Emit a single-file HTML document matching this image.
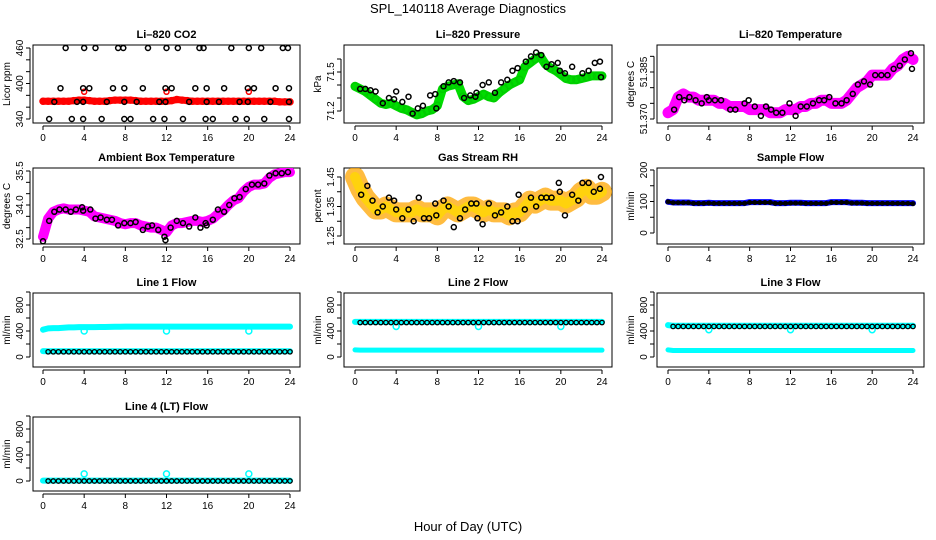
<!DOCTYPE html>
<html><head><meta charset="utf-8"><style>
body{margin:0;background:#fff;}
svg{display:block;font-family:"Liberation Sans",Arial,sans-serif;}
</style></head><body>
<svg id="chart" width="936" height="540" viewBox="0 0 936 540" xmlns="http://www.w3.org/2000/svg">
<text x="468" y="13" font-size="13" text-anchor="middle">SPL_140118  Average Diagnostics</text>
<text x="468" y="531" font-size="13" text-anchor="middle">Hour of Day (UTC)</text>
</svg>
<script>
// ---- data ----
const halfHours = [0,0.5,1,1.5,2,2.5,3,3.5,4,4.5,5,5.5,6,6.5,7,7.5,8,8.5,9,9.5,10,10.5,11,11.5,12,12.5,13,13.5,14,14.5,15,15.5,16,16.5,17,17.5,18,18.5,19,19.5,20,20.5,21,21.5,22,22.5,23,23.5,24];
const xTicks = [0,4,8,12,16,20,24];

const co2Red = [370,370,370,370,370,370,371,372,372,371,370,370,370,371,372,372,372,372,371,370,370,370,370,370,370,371,373,372,371,370,370,370,370,370,370,370,370,370,370,370,370,370,370,370,370,370,369,369,369];
const co2RedOutT = [4,12,20];
const co2RedOutV = [386,386,386];
const co2BlackT = [2.2,4,5.1,7.3,7.8,10.2,12,13.1,15.2,15.6,18.3,20,21.2,23.3,23.8, 1.7,3.9,4.5,6.8,7.9,9.7,11.9,12.5,14.8,15.9,17.6,19.9,20.5,22.6,23.9, 1.1,3.3,3.9,6.2,7.9,9.1,11.3,11.9,14.2,15.9,17.1,19.1,19.9,22.1,23.9, 0.6,2.8,3.9,5.7,7.9,8.5,10.7,11.8,13.6,15.8,16.5,18.7,19.8,21.5,23.9];
const co2BlackV = [460,460,460,460,460,460,460,460,460,460,460,460,460,460,460, 392,392,392,392,392,392,392,392,392,392,392,392,392,392,392, 369,369,369,369,369,369,369,369,369,369,369,369,369,369,369, 340,340,340,340,340,340,340,340,340,340,340,340,340,340,340];

const presGreen = [71.39,71.37,71.35,71.32,71.29,71.26,71.25,71.26,71.24,71.22,71.21,71.19,71.17,71.18,71.2,71.21,71.24,71.37,71.39,71.4,71.41,71.31,71.28,71.29,71.31,71.33,71.31,71.3,71.34,71.37,71.4,71.42,71.44,71.54,71.57,71.6,71.62,71.56,71.53,71.51,71.48,71.45,71.44,71.44,71.45,71.46,71.47,71.47,71.47];
const presBlackT = [0.5,1,1.5,2,2.7,3.3,3.8,4,4.6,5.2,5.6,6.1,6.6,7.3,7.8,7.9,8.6,9.1,9.6,10.2,10.6,11.2,11.7,11.8,12.4,13,13.6,14.2,14.8,15.3,15.8,16.6,17.1,17.6,18.1,18.6,19.1,19.7,19.9,20.4,21.1,22.1,22.7,23.3,23.8,23.9];
const presBlackV = [71.37,71.37,71.36,71.35,71.26,71.3,71.29,71.35,71.27,71.31,71.18,71.22,71.24,71.32,71.33,71.22,71.39,71.42,71.43,71.42,71.3,71.32,71.31,71.34,71.4,71.42,71.34,71.42,71.44,71.51,71.53,71.58,71.62,71.65,71.63,71.54,71.56,71.57,71.51,71.49,71.54,71.49,71.51,71.57,71.58,71.46];

const tempMag = [51.372,51.373,51.377,51.378,51.377,51.377,51.376,51.376,51.376,51.376,51.375,51.375,51.374,51.374,51.374,51.374,51.373,51.373,51.373,51.373,51.372,51.372,51.372,51.373,51.373,51.373,51.374,51.374,51.375,51.375,51.376,51.376,51.375,51.375,51.375,51.376,51.378,51.38,51.381,51.382,51.384,51.384,51.384,51.384,51.386,51.387,51.389,51.39,51.389];
const tempBlackT = [0.6,1.1,1.6,2.1,2.7,3.3,3.8,4,4.6,5.2,6.1,6.6,7.5,7.9,8.5,9.1,9.6,10.1,10.6,11.2,11.9,12.5,13,13.6,14.2,14.8,15.3,15.8,16.4,17,17.5,18.1,18.6,19.2,19.8,20.3,20.9,21.5,22.1,22.7,23.2,23.8,23.9];
const tempBlackV = [51.373,51.377,51.376,51.377,51.376,51.375,51.377,51.376,51.376,51.376,51.373,51.373,51.375,51.376,51.374,51.371,51.374,51.373,51.372,51.372,51.375,51.371,51.374,51.374,51.375,51.376,51.376,51.377,51.375,51.375,51.376,51.378,51.381,51.382,51.381,51.384,51.384,51.384,51.386,51.387,51.389,51.391,51.386];

const ambMag = [32.6,33.4,33.7,33.8,33.85,33.8,33.8,33.8,33.75,33.7,33.5,33.45,33.4,33.35,33.3,33.2,33.15,33.2,33.2,33.1,33.05,33.0,33.0,32.9,32.8,33.1,33.2,33.2,33.25,33.3,33.3,33.25,33.3,33.4,33.6,33.75,34.0,34.2,34.3,34.6,34.8,34.9,34.9,34.95,35.2,35.35,35.4,35.45,35.45];
const ambBlackT = [0,0.6,1.1,1.6,2.2,2.7,3.2,3.8,3.9,4.6,5.1,5.6,6.2,6.7,7.3,7.9,8.5,9,9.7,10.2,10.6,11.2,11.8,11.9,12.4,13,13.6,14.2,14.8,15.3,15.8,15.9,16.5,17,17.6,18.1,18.6,19.1,19.7,20.3,20.9,21.5,22,22.6,23.2,23.8];
const ambBlackV = [32.4,33.3,33.7,33.8,33.8,33.7,33.8,33.9,33.75,33.8,33.4,33.45,33.35,33.35,33.1,33.2,33.2,33.25,32.9,33.05,33.1,32.9,32.6,32.45,33.0,33.3,33.2,33.05,33.45,33.0,33.2,33.1,33.35,33.8,33.7,34.0,34.3,34.35,34.7,34.9,34.9,34.95,35.3,35.4,35.4,35.45];

const rhOrange = [1.45,1.41,1.38,1.36,1.34,1.34,1.35,1.34,1.33,1.33,1.33,1.33,1.34,1.33,1.33,1.33,1.32,1.34,1.35,1.34,1.33,1.34,1.35,1.35,1.34,1.33,1.34,1.33,1.33,1.33,1.32,1.33,1.33,1.35,1.37,1.36,1.37,1.38,1.37,1.37,1.37,1.36,1.37,1.38,1.4,1.41,1.39,1.39,1.4];
const rhBlackT = [0.6,1.2,1.7,2.2,2.7,3.3,3.8,4,4.6,5.2,5.7,6.2,6.7,7.2,7.8,7.9,8.6,9.1,9.6,10.2,10.7,11.3,11.8,11.9,12.4,13,13.6,14.2,14.8,15.3,15.8,15.9,16.5,17.1,17.6,18.1,18.6,19.1,19.8,19.9,20.4,21.1,21.7,22.1,22.7,23.2,23.8,23.9];
const rhBlackV = [1.39,1.42,1.37,1.33,1.35,1.38,1.37,1.34,1.31,1.34,1.3,1.38,1.31,1.31,1.36,1.32,1.37,1.35,1.28,1.31,1.34,1.36,1.36,1.31,1.29,1.36,1.32,1.33,1.35,1.3,1.3,1.39,1.34,1.38,1.35,1.38,1.38,1.38,1.43,1.4,1.32,1.39,1.37,1.43,1.43,1.4,1.41,1.45];

const sampleBlue = [99,97,97,97,97,95,95,95,96,95,95,95,95,95,95,95,98,98,98,98,98,95,95,95,96,96,96,95,95,95,95,95,98,98,98,98,96,96,96,95,95,95,95,95,95,95,95,95,95];
const sampleBlack = [99,96,96,96,96,94,94,94,95,94,94,94,94,94,94,94,97,97,97,97,97,94,94,94,95,95,95,94,94,94,94,94,97,97,97,97,95,95,95,94,94,94,94,94,94,94,94,94,93];

const line1CyanHi = [420,440,445,445,450,455,455,460,460,460,460,462,462,464,465,466,468,468,468,468,468,468,468,468,468,468,468,468,468,468,468,468,468,468,468,468,468,468,468,468,468,468,468,468,468,468,468,468,468];
const line1CyanLo = [90,88,88,88,88,88,88,88,88,88,88,88,88,88,88,88,88,88,88,88,88,88,88,88,88,88,88,88,88,88,88,88,88,88,88,88,88,88,88,88,88,88,88,88,88,88,88,88,88];
const line1Black = [82,80,80,80,80,80,80,80,80,80,80,80,80,80,80,80,80,80,80,80,80,80,80,80,80,80,80,80,80,80,80,80,80,80,80,80,80,80,80,80,80,80,80,80,80,80,80,80,80];
const line1OutT = [4,12,20];
const line1OutV = [400,400,400];

const line2CyanHi = [540,540,540,540,540,540,540,540,540,540,540,540,540,540,540,540,540,540,540,540,540,540,540,540,540,540,540,540,540,540,540,540,540,540,540,540,540,540,540,540,540,540,540,540,540,540,540,540,540];
const line2CyanLo = [110,105,105,105,105,105,105,105,105,105,105,105,105,105,105,105,105,105,105,105,105,105,105,105,105,105,105,105,105,105,105,105,105,105,105,105,105,105,105,105,105,105,105,105,105,105,105,105,105];
const line2Black = [530,530,530,530,530,530,530,530,530,530,530,530,530,530,530,530,530,530,530,530,530,530,530,530,530,530,530,530,530,530,530,530,530,530,530,530,530,530,530,530,530,530,530,530,530,530,530,530,530];
const line2OutT = [4,12,20];
const line2OutV = [470,470,470];

const line3CyanHi = [490,480,480,480,480,480,480,480,480,480,480,480,480,480,480,480,480,480,480,480,480,480,480,480,480,480,480,480,480,480,480,480,480,480,480,480,480,480,480,480,480,480,480,480,480,480,480,480,480];
const line3CyanLo = [110,100,100,100,100,100,100,100,100,100,100,100,100,100,100,100,100,100,100,100,100,100,100,100,100,100,100,100,100,100,100,100,100,100,100,100,100,100,100,100,100,100,100,100,100,100,100,100,100];
const line3Black = [470,470,470,470,470,470,470,470,470,470,470,470,470,470,470,470,470,470,470,470,470,470,470,470,470,470,470,470,470,470,470,470,470,470,470,470,470,470,470,470,470,470,470,470,470,470,470,470,470];
const line3OutT = [4,12,20];
const line3OutV = [420,420,420];

const line4Cyan = [5,5,5,5,5,5,5,5,5,5,5,5,5,5,5,5,5,5,5,5,5,5,5,5,5,5,5,5,5,5,5,5,5,5,5,5,5,5,5,5,5,5,5,5,5,5,5,5,5];
const line4Black = [0,0,0,0,0,0,0,0,0,0,0,0,0,0,0,0,0,0,0,0,0,0,0,0,0,0,0,0,0,0,0,0,0,0,0,0,0,0,0,0,0,0,0,0,0,0,0,0,0];
const line4OutT = [4,12,20];
const line4OutV = [110,110,110];

// ---- drawing ----
const svg = document.getElementById('chart');
const NS = 'http://www.w3.org/2000/svg';
function mk(tag, attrs, parent) {
  const e = document.createElementNS(NS, tag);
  for (const k in attrs) e.setAttribute(k, attrs[k]);
  (parent || svg).appendChild(e);
  return e;
}
const cols = [{l:33,r:300,x0:43,x24:290},{l:344,r:612,x0:355,x24:602},{l:657,r:924,x0:668,x24:913}];
const rows = [{t:45,b:123},{t:168,b:244},{t:293,b:367},{t:417,b:491}];

function panel(name, title, ylab, c, r, cal, ticks, labels, decimals) {
  const C = cols[c], R = rows[r];
  const g = mk('g', {});
  
  
  const xs = h => C.x0 + (C.x24 - C.x0) * h / 24;
  const ys = v => cal[1] + (v - cal[0]) * (cal[3] - cal[1]) / (cal[2] - cal[0]);
  const box = mk('rect', {x:C.l, y:R.t, width:C.r-C.l, height:R.b-R.t, fill:'none', stroke:'#000', 'stroke-width':1}, g);
  
  
  const tt = mk('text', {x:(C.l+C.r)/2, y:R.t-7, 'font-size':11, 'font-weight':'bold', 'text-anchor':'middle'}, g);
  tt.textContent = title;
  
  
  const yt = mk('text', {x:0, y:0, 'font-size':10, 'text-anchor':'middle', transform:`translate(${C.l-23},${(R.t+R.b)/2}) rotate(-90)`}, g);
  yt.textContent = ylab;
  
  
  mk('line', {x1:xs(0), x2:xs(24), y1:R.b+3, y2:R.b+3, stroke:'#000'}, g);
  xTicks.forEach(h => {
    mk('line', {x1:xs(h), x2:xs(h), y1:R.b+3, y2:R.b+7, stroke:'#000'}, g);
    const t = mk('text', {x:xs(h), y:R.b+18, 'font-size':10, 'text-anchor':'middle'}, g);
    t.textContent = h;
    
    
  });
  mk('line', {x1:C.l-3, x2:C.l-3, y1:ys(ticks[0]), y2:ys(ticks[ticks.length-1]), stroke:'#000'}, g);
  ticks.forEach(v => mk('line', {x1:C.l-7, x2:C.l-3, y1:ys(v), y2:ys(v), stroke:'#000'}, g));
  labels.forEach(v => {
    const t = mk('text', {x:0, y:0, 'font-size':10, 'text-anchor':'middle', transform:`translate(${C.l-10},${ys(v)}) rotate(-90)`}, g);
    t.textContent = v.toFixed(decimals);
    
    
  });
  const clip = 'clip' + name;
  const cp = mk('clipPath', {id:clip}, g);
  mk('rect', {x:C.l, y:R.t, width:C.r-C.l, height:R.b-R.t}, cp);
  const pg = mk('g', {'clip-path':`url(#${clip})`}, g);
  return {xs, ys, g:pg};
}
function band(P, vals, color, width, nm, op) {
  const pts = halfHours.map((h,i) => P.xs(h)+','+P.ys(vals[i])).join(' ');
  const pl = mk('polyline', {points:pts, fill:'none', stroke:color, 'stroke-width':width, 'stroke-linejoin':'round', 'stroke-linecap':'round', 'stroke-opacity': op || 1}, P.g);
  
  
}
function dots(P, ts, vs, color, rr, sw, nm) {
  ts.forEach((h,i) => {
    const c = mk('circle', {cx:P.xs(h), cy:P.ys(vs[i]), r:rr, fill:'none', stroke:color, 'stroke-width':sw}, P.g);
    
    
  });
}

let P;
P = panel('co2-panel','Li\u2013820 CO2','Licor ppm',0,0,[340,119,460,48],[340,360,380,400,420,440,460],[340,400,460],0);
band(P, co2Red, '#f00', 7, 'co2-band'); dots(P, halfHours, co2Red, '#f00', 3, 1.5, 'co2-point');
dots(P, co2RedOutT, co2RedOutV, '#f00', 2.5, 1.5, 'co2-outlier');
dots(P, co2BlackT, co2BlackV, '#000', 2.5, 1.5, 'co2-avg-point');

P = panel('pressure-panel','Li\u2013820 Pressure','kPa',1,0,[71.2,111,71.5,72],[71.2,71.3,71.4,71.5,71.6],[71.2,71.5],1);
band(P, presGreen, '#0d0', 9, 'pressure-band'); dots(P, halfHours, presGreen, '#0c0', 3.5, 1.5, 'pressure-point');
dots(P, presBlackT, presBlackV, '#000', 2.5, 1.5, 'pressure-avg-point');

P = panel('temperature-panel','Li\u2013820 Temperature','degrees C',2,0,[51.370,119,51.385,72],[51.370,51.375,51.380,51.385,51.390],[51.370,51.385],3);
band(P, tempMag, '#f0f', 11, 'temp-band'); dots(P, halfHours, tempMag, '#f0f', 4, 1.5, 'temp-point');
dots(P, tempBlackT, tempBlackV, '#000', 2.5, 1.5, 'temp-avg-point');

P = panel('ambient-panel','Ambient Box Temperature','degrees C',0,1,[32.5,239,35.5,171],[32.5,33,33.5,34,34.5,35,35.5],[32.5,34.0,35.5],1);
band(P, ambMag, '#f0f', 10, 'ambient-band'); dots(P, halfHours, ambMag, '#f0f', 4, 1.5, 'ambient-point');
dots(P, ambBlackT, ambBlackV, '#000', 2.5, 1.5, 'ambient-avg-point');

P = panel('rh-panel','Gas Stream RH','percent',1,1,[1.25,236,1.45,177],[1.25,1.30,1.35,1.40,1.45],[1.25,1.35,1.45],2);
band(P, rhOrange, '#ffa500', 20, 'rh-band-outer', 0.75); band(P, rhOrange, '#ffd700', 10, 'rh-band-inner', 0.8);
dots(P, rhBlackT, rhBlackV, '#000', 2.5, 1.5, 'rh-avg-point');

P = panel('sample-flow-panel','Sample Flow','ml/min',2,1,[0,233,200,170],[0,50,100,150,200],[0,100,200],0);
band(P, sampleBlue, '#00f', 6, 'sample-band'); band(P, sampleBlack, '#000', 3, 'sample-avg-band');
dots(P, halfHours, sampleBlack, '#000', 2, 1, 'sample-avg-point');

const fTicks = [0,200,400,600,800,1000], fLabels = [0,400,800];
P = panel('line1-panel','Line 1 Flow','ml/min',0,2,[0,357,800,305],fTicks,fLabels,0);
band(P, line1CyanHi, '#0ff', 6, 'line1-band-high'); band(P, line1CyanLo, '#0ff', 6, 'line1-band-low');
dots(P, line1OutT, line1OutV, '#0ff', 3, 1.5, 'line1-outlier');
dots(P, halfHours.slice(1), line1Black.slice(1), '#000', 2.2, 1.3, 'line1-avg-point');

P = panel('line2-panel','Line 2 Flow','ml/min',1,2,[0,357,800,305],fTicks,fLabels,0);
band(P, line2CyanHi, '#0ff', 6, 'line2-band-high'); band(P, line2CyanLo, '#0ff', 5, 'line2-band-low');
dots(P, line2OutT, line2OutV, '#0ff', 3, 1.5, 'line2-outlier');
dots(P, halfHours.slice(1), line2Black.slice(1), '#000', 2.2, 1.3, 'line2-avg-point');

P = panel('line3-panel','Line 3 Flow','ml/min',2,2,[0,357,800,305],fTicks,fLabels,0);
band(P, line3CyanHi, '#0ff', 6, 'line3-band-high'); band(P, line3CyanLo, '#0ff', 5, 'line3-band-low');
dots(P, line3OutT, line3OutV, '#0ff', 3, 1.5, 'line3-outlier');
dots(P, halfHours.slice(1), line3Black.slice(1), '#000', 2.2, 1.3, 'line3-avg-point');

P = panel('line4-panel','Line 4 (LT) Flow','ml/min',0,3,[0,481,800,429],fTicks,fLabels,0);
band(P, line4Cyan, '#0ff', 6, 'line4-band');
dots(P, line4OutT, line4OutV, '#0ff', 3, 1.5, 'line4-outlier');
dots(P, halfHours.slice(1), line4Black.slice(1), '#000', 2.2, 1.3, 'line4-avg-point');
</script>
</body></html>
